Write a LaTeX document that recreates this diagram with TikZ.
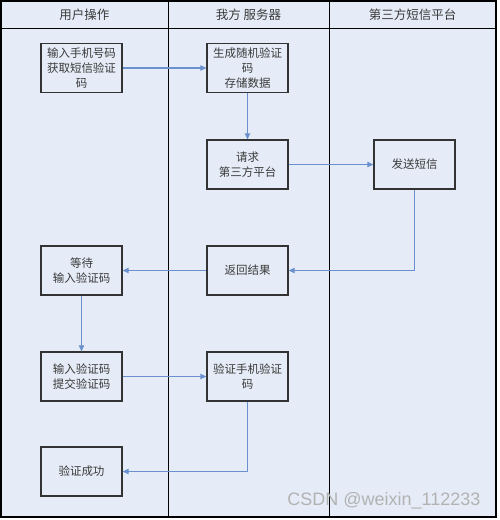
\documentclass[tikz,border=0pt]{standalone}
\usepackage{fontspec}
\setmainfont{Noto Sans CJK SC}
\newfontfamily\wmfont{Liberation Sans}
\usetikzlibrary{arrows.meta}
\definecolor{bgblue}{HTML}{E6ECF7}
\definecolor{arrowblue}{HTML}{6A90CD}
\definecolor{txtgray}{HTML}{3A3A3A}
\tikzset{
  proc/.style={draw=black!80, line width=1.3pt, fill=bgblue, minimum width=81pt, minimum height=49pt,
    inner sep=1pt, align=center, font=\fontsize{11.5}{15}\selectfont, text=txtgray},
  hdr/.style={font=\fontsize{12.5}{14}\selectfont, text=txtgray},
  flow/.style={draw=arrowblue, line width=1.1pt, -{Triangle[length=6pt,width=5.5pt]}},
}
\begin{document}
\begin{tikzpicture}[x=1pt,y=-1pt]
\useasboundingbox (0,0) rectangle (499,520);
\fill[bgblue] (1,1) rectangle (496,517);
\draw[line width=1pt] (168,1) -- (168,517);
\draw[line width=1pt] (329,1) -- (329,517);
\draw[line width=1pt] (1,28) -- (496,28);
\draw[line width=1.4pt] (1,1) rectangle (496,517);
\node[hdr] (h1) at (84.5,14.5) {用户操作};
\node[hdr] (h2) at (248.5,14.5) {我方 服务器};
\node[hdr] (h3) at (412.5,14.5) {第三方短信平台};
\node[proc] (b1) at (81.5,68) {输入手机号码\\获取短信验证\\码};
\node[proc] (b2) at (247.5,68) {生成随机验证\\码\\存储数据};
\node[proc] (b3) at (247.5,164.5) {请求\\第三方平台};
\node[proc] (b4) at (414.5,164.5) {发送短信};
\node[proc] (b5) at (247.5,270.5) {返回结果};
\node[proc] (b6) at (81.5,270.5) {等待\\输入验证码};
\node[proc] (b7) at (81.5,376.5) {输入验证码\\提交验证码};
\node[proc] (b8) at (247.5,376.5) {验证手机验证\\码};
\node[proc] (b9) at (81.5,471.5) {验证成功};
\draw[flow] (b1) -- (b2);
\draw[flow] (b2) -- (b3);
\draw[flow] (b3) -- (b4);
\draw[flow] (b4.south) |- (b5.east);
\draw[flow] (b5) -- (b6);
\draw[flow] (b6) -- (b7);
\draw[flow] (b7) -- (b8);
\draw[flow] (b8.south) |- (b9.east);
\node[font=\wmfont\fontsize{18}{18}\selectfont, text=black!30, anchor=east] (wm) at (484,501) {CSDN @weixin\_112233};
\end{tikzpicture}
\end{document}
